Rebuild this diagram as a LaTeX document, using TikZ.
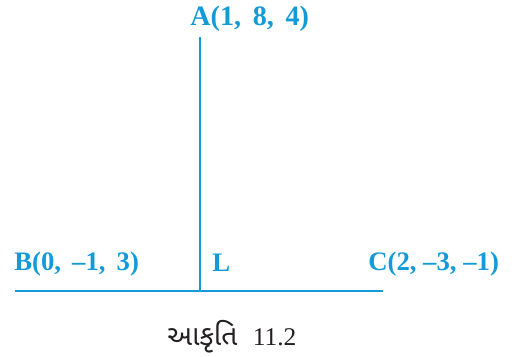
\documentclass[tikz,border=0pt]{standalone}
\usepackage{fontspec}
\setmainfont{Liberation Serif}
\newfontfamily\gujfont[Script=Gujarati]{Noto Sans Gujarati UI}
\usetikzlibrary{positioning}
\definecolor{Ray}{HTML}{149BD7}
\definecolor{Ink}{HTML}{231F20}

\begin{document}
\begin{tikzpicture}[x=0.02cm,y=-0.02cm]
\tikzset{ptlabel/.style={font=\fontsize{15.2}{18}\selectfont\bfseries,text=Ray,inner sep=0pt,anchor=base west},
  seg/.style={Ray,line width=1.5pt}}
\useasboundingbox (0,0) rectangle (517,356);
\coordinate (A) at (200,37);
\coordinate (L) at (200,291);
\coordinate (B) at (15,291);
\coordinate (C) at (383,291);
\node[ptlabel,font=\fontsize{16}{18}\selectfont\bfseries] (labA) at (190,25) {A(1,\, 8,\, 4)};
\node[ptlabel] (labB) at (14,270) {B(0,\, –1,\, 3)};
\node[ptlabel] (labL) at (212,271) {L};
\node[ptlabel] (labC) at (368,270) {C(2, –3, –1)};
\draw[seg] (A) -- (L);
\draw[seg] (B) -- (C);
\node[font=\fontsize{14.5}{17}\selectfont,text=Ink,inner sep=0pt,anchor=base west] (cap) at (167,345) {{\gujfont\fontsize{16}{18}\selectfont આકૃતિ}\hspace{0.6em}11.2};
\end{tikzpicture}
\end{document}
